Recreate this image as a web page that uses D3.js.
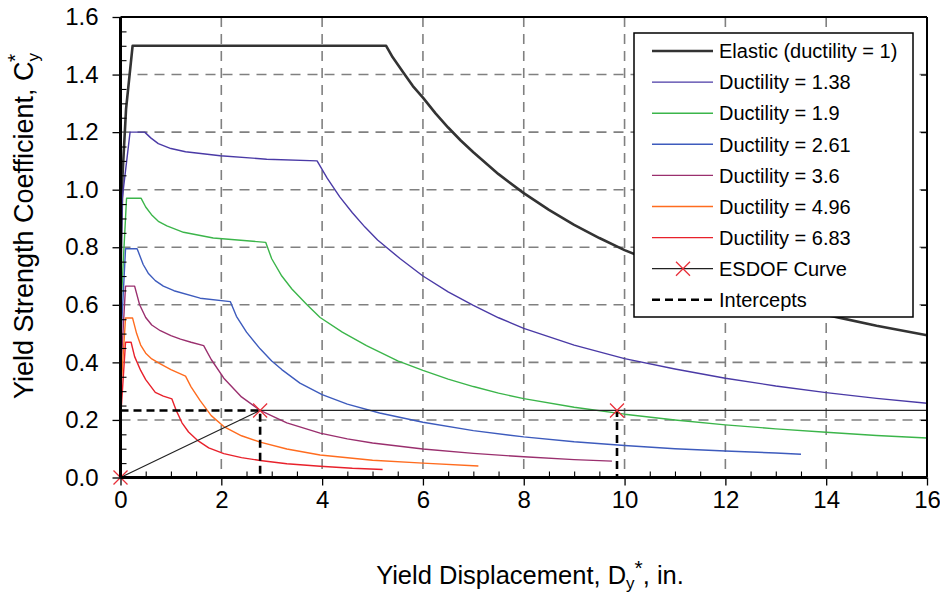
<!DOCTYPE html>
<html>
<head>
<meta charset="utf-8">
<script src="https://cdn.jsdelivr.net/npm/d3@7.9.0/dist/d3.min.js"></script>
<style>
  body { margin: 0; background: #fff; }
  svg { display: block; font-family: "Liberation Sans", Arial, sans-serif; }
</style>
</head>
<body>
<svg id="chart" width="940" height="594"></svg>
<script>
// values: [Dy (in.), Cy]
const elastic = [[0,0.6],[0.01,0.83],[0.04,1.05],[0.11,1.28],[0.24,1.5],[5.27,1.5],[5.4,1.46],[5.6,1.41],[5.8,1.36],[6,1.32],[6.25,1.265],[6.5,1.216],[6.75,1.171],[7,1.13],[7.5,1.054],[8,0.988],[8.5,0.93],[9,0.878],[9.5,0.832],[10,0.79],[11,0.72],[12,0.66],[13,0.61],[14,0.565],[15,0.527],[16,0.494]];
const duct138 = [[0,0.6],[0.035,0.97],[0.19,1.2],[0.48,1.2],[0.6,1.18],[0.75,1.16],[1.0,1.143],[1.29,1.132],[1.98,1.118],[2.9,1.106],[3.9,1.1],[4.1,1.04],[4.35,0.975],[4.6,0.92],[4.85,0.87],[5.1,0.825],[5.55,0.76],[6,0.7],[6.5,0.645],[7,0.598],[7.5,0.555],[8,0.518],[9,0.46],[10,0.413],[11,0.377],[12,0.345],[13,0.318],[14,0.295],[15,0.275],[16,0.258]];
const duct19 = [[0,0.55],[0.055,0.75],[0.12,0.97],[0.41,0.97],[0.5,0.94],[0.63,0.91],[0.75,0.89],[0.92,0.874],[1.25,0.852],[1.84,0.832],[2.88,0.817],[3.0,0.76],[3.2,0.7],[3.4,0.655],[3.7,0.6],[3.96,0.556],[4.4,0.505],[4.88,0.458],[5.5,0.405],[6,0.372],[6.5,0.342],[7,0.316],[7.5,0.293],[8,0.274],[9,0.244],[10,0.22],[11,0.2],[12,0.183],[13,0.169],[14,0.157],[15,0.146],[16,0.137]];
const duct261 = [[0,0.45],[0.1,0.795],[0.33,0.795],[0.45,0.74],[0.55,0.71],[0.69,0.684],[0.85,0.665],[1.06,0.649],[1.58,0.623],[2.18,0.611],[2.3,0.56],[2.5,0.505],[2.77,0.447],[3.0,0.405],[3.2,0.375],[3.56,0.328],[4.0,0.288],[4.5,0.255],[5.14,0.224],[6,0.192],[7,0.163],[8,0.141],[9,0.124],[10,0.111],[11,0.1],[12,0.092],[13,0.085],[13.5,0.081]];
const duct36 = [[0,0.35],[0.1,0.665],[0.28,0.665],[0.38,0.6],[0.5,0.556],[0.62,0.53],[0.79,0.51],[1.0,0.493],[1.19,0.481],[1.4,0.47],[1.65,0.458],[1.8,0.41],[2.05,0.345],[2.4,0.28],[2.77,0.233],[3.3,0.19],[3.96,0.154],[4.5,0.134],[5,0.12],[6,0.099],[7,0.084],[8,0.072],[9,0.062],[9.75,0.057]];
const duct496 = [[0,0.28],[0.1,0.554],[0.24,0.554],[0.32,0.5],[0.4,0.46],[0.5,0.432],[0.62,0.412],[0.79,0.395],[1.0,0.375],[1.29,0.352],[1.4,0.315],[1.58,0.267],[1.8,0.215],[2.05,0.177],[2.4,0.145],[2.77,0.123],[3.3,0.099],[3.96,0.078],[5,0.06],[6,0.05],[7.1,0.04]];
const duct683 = [[0,0.2],[0.1,0.47],[0.21,0.47],[0.28,0.42],[0.4,0.372],[0.5,0.34],[0.69,0.296],[0.85,0.283],[1.02,0.273],[1.1,0.235],[1.22,0.19],[1.35,0.158],[1.52,0.13],[1.75,0.103],[2.05,0.083],[2.4,0.069],[2.77,0.059],[3.3,0.048],[3.96,0.039],[4.6,0.032],[5.2,0.028]];
const esdof = [[0,0],[2.77,0.233],[16,0.233]];
const esdofMarks = [[0,0],[2.77,0.233],[9.85,0.233]];
const intercepts = [[0,0.233],[2.77,0.233],[2.77,0],[9.85,0],[9.85,0.233]];

const seriesNames = ['Elastic (ductility = 1)','Ductility = 1.38','Ductility = 1.9','Ductility = 2.61','Ductility = 3.6','Ductility = 4.96','Ductility = 6.83'];
const seriesData = [elastic, duct138, duct19, duct261, duct36, duct496, duct683];
const seriesColors = ['#333333','#4a3aa6','#3bb54a','#3d5bbd','#9a2f6e','#ff6c1f','#e8212b'];
const xTicks = [0,2,4,6,8,10,12,14,16];
const yTicks = [0,0.2,0.4,0.6,0.8,1.0,1.2,1.4,1.6];

const svg = d3.select('#chart');
const pLeft = 120.5, pRight = 927, pTop = 17, pBottom = 477.5;

const x = d3.scaleLinear().domain([0,16]).range([pLeft,pRight]);
const y = d3.scaleLinear().domain([0,1.6]).range([pBottom,pTop]);

// grid
const grid = svg.append('g').attr('stroke','#808080').attr('stroke-width',1.6).attr('stroke-dasharray','10,7');
xTicks.slice(1,-1).forEach(t => {
  grid.append('line').attr('x1',x(t)).attr('x2',x(t)).attr('y1',pTop).attr('y2',pBottom);
});
yTicks.slice(1,-1).forEach(t => {
  grid.append('line').attr('x1',pLeft).attr('x2',pRight).attr('y1',y(t)).attr('y2',y(t));
});

const line = d3.line().x(d => x(d[0])).y(d => y(d[1]));

// curves
seriesData.forEach((d, i) => {
  svg.append('path')
    .attr('d', line(d))
    .attr('fill','none')
    .attr('stroke', seriesColors[i])
    .attr('stroke-width', i === 0 ? 2.6 : 1.4)
    .attr('stroke-linejoin','round');
});

svg.append('path').attr('d', line(esdof)).attr('fill','none').attr('stroke','#222').attr('stroke-width',1.2);
svg.append('path').attr('d', line(intercepts)).attr('fill','none').attr('stroke','#000')
  .attr('stroke-width',2.6).attr('stroke-dasharray','8,5');

function cross(g, cx, cy) {
  g.append('path')
    .attr('d', `M${cx-7},${cy-7}L${cx+7},${cy+7}M${cx-7},${cy+7}L${cx+7},${cy-7}`)
    .attr('stroke','#e8303a').attr('stroke-width',1.3).attr('fill','none');
}
esdofMarks.forEach(d => cross(svg, x(d[0]), y(d[1])));

// axes
const xAxis = d3.axisBottom(x).tickValues(xTicks).tickSize(8).tickPadding(5).tickFormat(d3.format('d'));
const gx = svg.append('g').attr('transform',`translate(0,${pBottom})`).call(xAxis);
gx.select('.domain').remove();
gx.selectAll('line').attr('stroke','#000').attr('stroke-width',1.3);
gx.selectAll('text').attr('font-size',24).attr('fill','#000').attr('font-family','Liberation Sans, Arial, sans-serif');

const xMinor = d3.axisBottom(x).tickValues(d3.range(0.5,16,0.5).filter(v => v % 2 !== 0)).tickSize(-6).tickFormat('');
const gxm = svg.append('g').attr('transform',`translate(0,${pBottom})`).call(xMinor);
gxm.select('.domain').remove();
gxm.selectAll('line').attr('stroke','#000').attr('stroke-width',1.1);

const yAxis = d3.axisLeft(y).tickValues(yTicks).tickSize(8).tickPadding(14).tickFormat(d3.format('.1f'));
const gy = svg.append('g').attr('transform',`translate(${pLeft},0)`).call(yAxis);
gy.select('.domain').remove();
gy.selectAll('line').attr('stroke','#000').attr('stroke-width',1.3);
gy.selectAll('text').attr('font-size',24).attr('fill','#000').attr('font-family','Liberation Sans, Arial, sans-serif');

const yMinor = d3.axisLeft(y).tickValues(d3.range(0.05,1.6,0.05).filter(v => Math.abs(v*5 - Math.round(v*5)) > 1e-6)).tickSize(-6).tickFormat('');
const gym = svg.append('g').attr('transform',`translate(${pLeft},0)`).call(yMinor);
gym.select('.domain').remove();
gym.selectAll('line').attr('stroke','#000').attr('stroke-width',1.1);

const yRight = d3.axisRight(y).tickValues(yTicks.slice(1,-1)).tickSize(-6).tickFormat('');
const gyr = svg.append('g').attr('transform',`translate(${pRight},0)`).call(yRight);
gyr.select('.domain').remove();
gyr.selectAll('line').attr('stroke','#000').attr('stroke-width',1.2);

// frame
svg.append('line').attr('x1',pLeft).attr('x2',pRight).attr('y1',pTop).attr('y2',pTop).attr('stroke','#000').attr('stroke-width',2);
svg.append('line').attr('x1',pRight).attr('x2',pRight).attr('y1',pTop).attr('y2',pBottom).attr('stroke','#000').attr('stroke-width',2);
svg.append('line').attr('x1',pLeft).attr('x2',pRight).attr('y1',pBottom).attr('y2',pBottom).attr('stroke','#000').attr('stroke-width',3);
svg.append('line').attr('x1',pLeft).attr('x2',pLeft).attr('y1',pTop).attr('y2',pBottom).attr('stroke','#000').attr('stroke-width',3);

// axis titles
const xt = svg.append('text').attr('x',530).attr('y',584).attr('text-anchor','middle').attr('font-size',25.5);
xt.append('tspan').text('Yield Displacement, D');
xt.append('tspan').attr('font-size',17).attr('dy',5).text('y');
xt.append('tspan').attr('font-size',21).attr('dy',-14).text('*');
xt.append('tspan').attr('dy',9).text(', in.');

const yt = svg.append('text').attr('transform','translate(33,226) rotate(-90)').attr('text-anchor','middle').attr('font-size',27);
yt.append('tspan').text('Yield Strength Coefficient, C');
yt.append('tspan').attr('font-size',17).attr('dy',6).text('y');
yt.append('tspan').attr('font-size',21).attr('dx',-9).attr('dy',-17).text('*');

// legend
const lg = svg.append('g');
lg.append('rect').attr('x',634).attr('y',33).attr('width',279).attr('height',284)
  .attr('fill','#fff').attr('stroke','#000').attr('stroke-width',1.5);
const rowY = i => 51 + i * 31.1;
seriesNames.forEach((name, i) => {
  lg.append('line').attr('x1',652).attr('x2',713).attr('y1',rowY(i)).attr('y2',rowY(i))
    .attr('stroke',seriesColors[i]).attr('stroke-width', i === 0 ? 2.6 : 1.4);
  lg.append('text').attr('x',719).attr('y',rowY(i)).attr('dy','0.36em').attr('font-size',20).text(name);
});
lg.append('line').attr('x1',652).attr('x2',713).attr('y1',rowY(7)).attr('y2',rowY(7)).attr('stroke','#222').attr('stroke-width',1.2);
cross(lg, 683, rowY(7));
lg.append('text').attr('x',719).attr('y',rowY(7)).attr('dy','0.36em').attr('font-size',20).text('ESDOF Curve');
lg.append('line').attr('x1',652).attr('x2',713).attr('y1',rowY(8)).attr('y2',rowY(8)).attr('stroke','#000')
  .attr('stroke-width',2.6).attr('stroke-dasharray','8,5');
lg.append('text').attr('x',719).attr('y',rowY(8)).attr('dy','0.36em').attr('font-size',20).text('Intercepts');
</script>
</body>
</html>
